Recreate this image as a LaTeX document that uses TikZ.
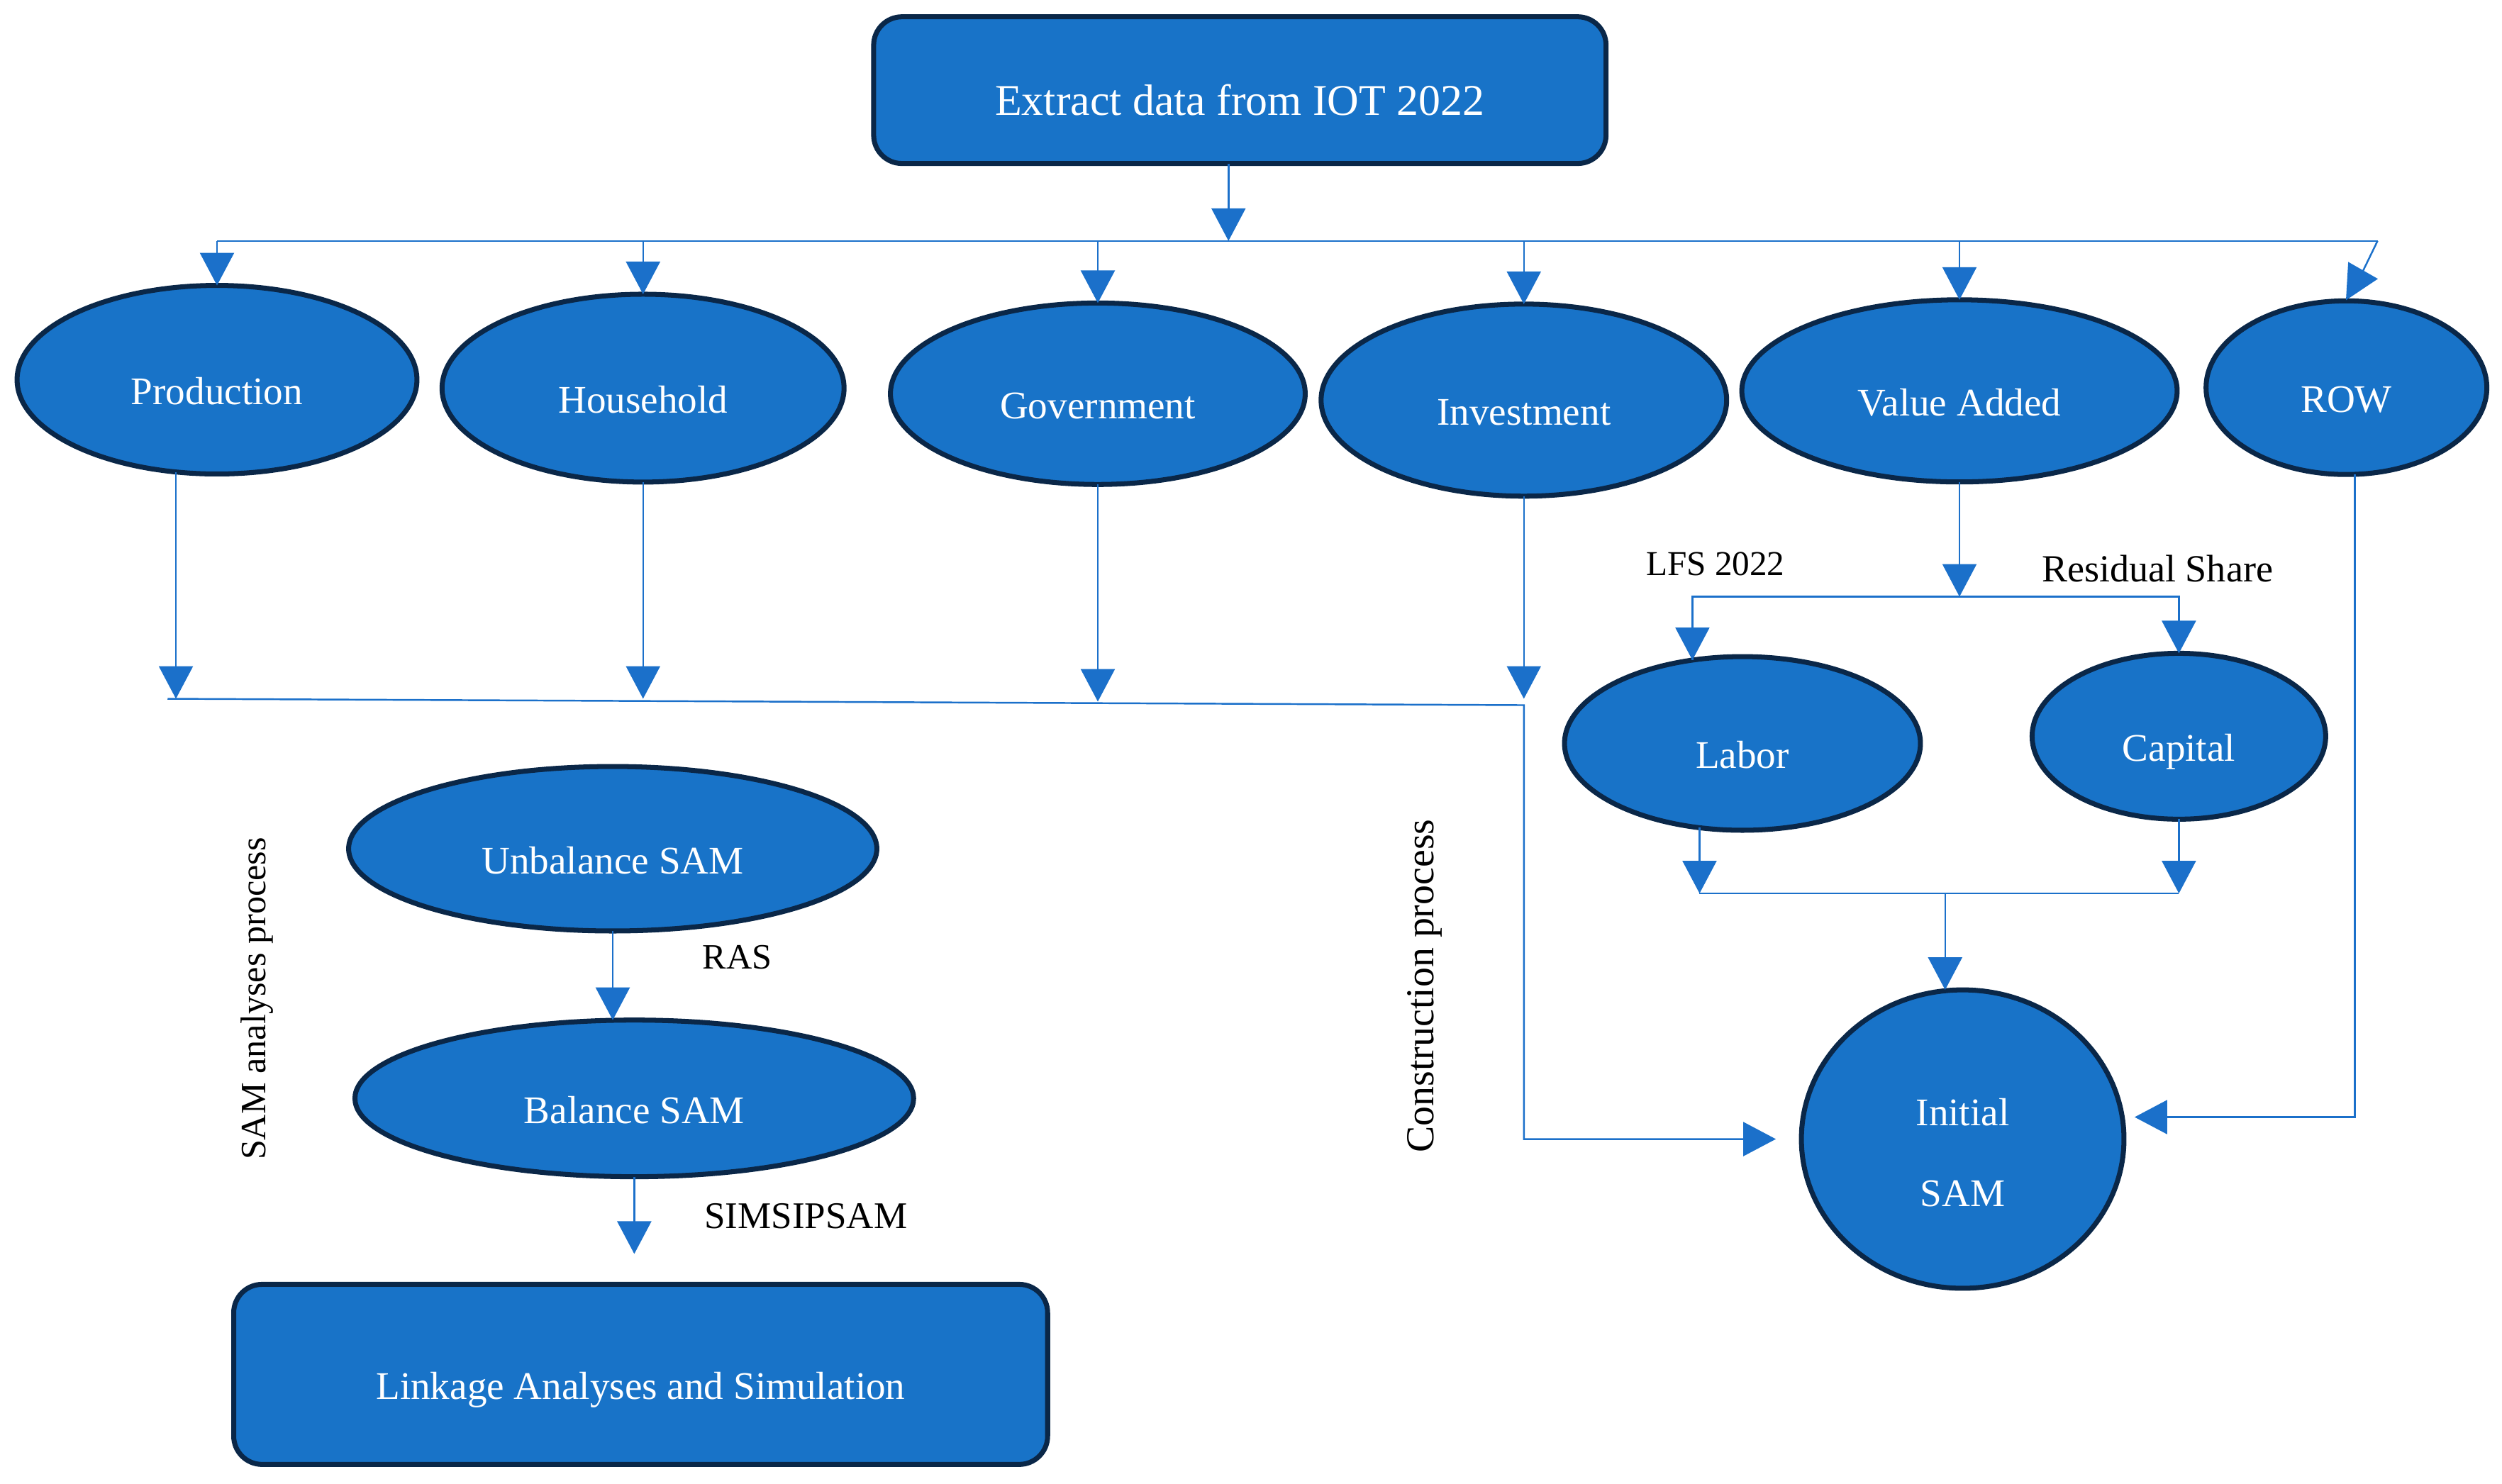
\documentclass[tikz,border=0pt]{standalone}
\usepackage{fontspec}
\setmainfont{Liberation Serif}
\usetikzlibrary{shapes.geometric, arrows.meta}
\definecolor{fillc}{HTML}{1873C8}
\definecolor{bordc}{HTML}{0A2748}
\definecolor{linec}{HTML}{1B70CA}
\newcommand\wfont{\fontsize{15.7}{18}\selectfont}
\begin{document}
\begin{tikzpicture}[x=0.0225cm, y=-0.0225cm,
  oval/.style={ellipse, draw=bordc, line width=2pt, fill=fillc, text=white,
    inner sep=0pt, outer sep=0pt, font=\wfont, text height=20pt, text depth=0pt},
  rbox/.style={rectangle, rounded corners=0.4cm, draw=bordc, line width=2pt, fill=fillc,
    text=white, inner sep=0pt, outer sep=0pt, text height=20pt, text depth=0pt},
  conn/.style={draw=linec, line width=0.7pt},
  arr/.style={conn, -{Triangle[length=0.46cm,width=0.48cm]}},
  blab/.style={text=black, inner sep=0pt, font=\fontsize{#1}{#1}\selectfont},
  wtext/.style={text=white, inner sep=0pt, font=\wfont}]
\useasboundingbox (0,0) rectangle (1568,929.8);

% nodes
\node[rbox, minimum width=10.33cm, minimum height=2.07cm,
  font=\fontsize{17.6}{20}\selectfont] (top) at (777,56.5) {Extract data from IOT 2022};
\node[oval, minimum width=5.64cm, minimum height=2.66cm] (prod) at (136,238) {Production};
\node[oval, minimum width=5.67cm, minimum height=2.65cm] (hh) at (403,243.3) {Household};
\node[oval, minimum width=5.85cm, minimum height=2.56cm] (gov) at (688,246.8) {Government};
\node[oval, minimum width=5.72cm, minimum height=2.71cm] (inv) at (955,250.8) {Investment};
\node[oval, minimum width=6.14cm, minimum height=2.57cm] (va) at (1228,245) {Value Added};
\node[oval, minimum width=3.96cm, minimum height=2.45cm] (row) at (1470.5,243) {ROW};
\node[oval, minimum width=5.02cm, minimum height=2.45cm] (labor) at (1092,466) {Labor};
\node[oval, minimum width=4.14cm, minimum height=2.34cm] (capital) at (1365.5,461.5) {Capital};
\node[oval, minimum width=4.55cm, minimum height=4.21cm] (init) at (1230,714) {};
\node[wtext] at (1230,697) {Initial};
\node[wtext] at (1230,748) {SAM};
\node[oval, minimum width=7.45cm, minimum height=2.32cm] (unb) at (384,532) {Unbalance SAM};
\node[oval, minimum width=7.88cm, minimum height=2.21cm] (bal) at (397.5,688.5) {Balance SAM};
\node[rbox, minimum width=11.48cm, minimum height=2.54cm, font=\wfont] (link) at (401.5,861.5)
  {Linkage Analyses and Simulation};

% labels
\node[blab=14] (lfs) at (1075,353.7) {LFS 2022};
\node[blab=15.4] (res) at (1352,356.5) {Residual Share};
\node[blab=14.3] (ras) at (462,600) {RAS};
\node[blab=15.1] (sims) at (505,762.5) {SIMSIPSAM};
\node[blab=14.3, rotate=90] (samproc) at (161,626) {SAM analyses process};
\node[blab=15.9, rotate=90] (conproc) at (893,618) {Construction process};

% top bus
\coordinate (busL) at (136,151);
\coordinate (busR) at (1490,151);
\draw[arr] ([xshift=-0.16cm]top.south) -- ([xshift=-0.16cm]top.south |- busL);
\draw[conn] (busL) -- (busR);
\draw[arr] (busL) -- (prod.north);
\draw[arr] (hh.north |- busL) -- (hh.north);
\draw[arr] (gov.north |- busL) -- (gov.north);
\draw[arr] (inv.north |- busL) -- (inv.north);
\draw[arr] (va.north |- busL) -- (va.north);
\draw[conn] (busR) -- ([shift={(10,-18)}]row.north);
\fill[linec, shift={(row.north)}] (1.1,-24.4) -- (19.7,-13.8) -- (-0.3,-0.4) -- cycle;

% second bus to Initial SAM
\coordinate (bus2L) at (105,438);
\coordinate (bus2R) at (955,442);
\draw[arr] (prod.246) -- (prod.246 |- bus2L);
\draw[arr] (hh.south) -- (hh.south |- bus2L);
\draw[arr] (gov.south) -- ([yshift=-0.04cm]gov.south |- bus2L);
\draw[arr] (inv.south) -- (inv.south |- bus2L);
\draw[arr] (bus2L) -- (bus2R) |- ([xshift=-0.36cm]init.west);

% value added split
\coordinate (vb) at (1228,374);
\draw[arr] (va.south) -- (vb);
\draw[conn] (vb) -| (labor.121);
\draw[arr] (vb) -| (labor.121);
\draw[arr] (vb) -| (capital.north);

% labor & capital join
\coordinate (jm) at (1219,560);
\draw[arr] (labor.243) -- (labor.243 |- jm);
\draw[arr] (capital.south) -- (capital.south |- jm);
\draw[conn] (labor.243 |- jm) -- (capital.south |- jm);
\draw[arr] (jm) -- (jm |- init.north);

% ROW to Initial SAM
\draw[arr] ([xshift=0.12cm]row.south) |- ([xshift=0.15cm,yshift=0.31cm]init.east);

% SAM analyses chain
\coordinate (linkin) at ([yshift=0.43cm]link.north);
\draw[arr] (unb.south) -- (unb.south |- bal.north);
\draw[arr] (bal.south) -- (bal.south |- linkin);
\end{tikzpicture}
\end{document}
